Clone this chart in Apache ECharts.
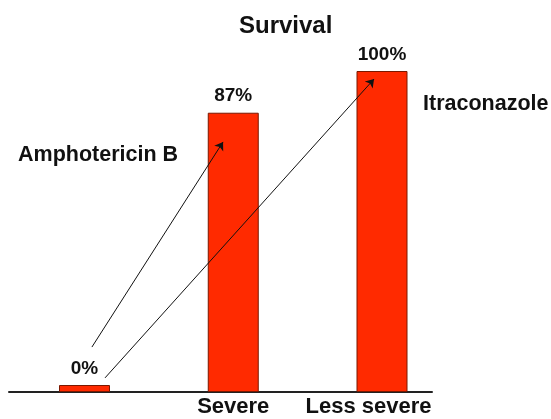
<!DOCTYPE html>
<html>
<head>
<meta charset="utf-8">
<script src="https://cdn.jsdelivr.net/npm/echarts@6/dist/echarts.min.js"></script>
<style>
html,body{margin:0;padding:0;background:#fff;}
#chart{width:551px;height:419px;}
</style>
</head>
<body>
<div id="chart"></div>
<script>
// Data
const categories = ['', 'Severe', 'Less severe'];
const survival = [0, 87, 100];
// Annotation arrows (in percent-of-axis-width x, survival-scale y)
const arrowAmphotericin = [[19.6, 14.0], [50.6, 77.9]];
const arrowItraconazole = [[22.7, 4.4], [86.3, 97.5]];
const annotationTexts = ['Amphotericin B', 'Itraconazole'];
const titleText = 'Survival';

const FONT = '"Liberation Sans", Arial, Helvetica, sans-serif';
const chart = echarts.init(document.getElementById('chart'), null, {renderer: 'canvas'});

const categoryData = categories.map(function (c, i) {
  return i === categories.length - 1
    ? {value: c, textStyle: {padding: [0, 27, 0, 0]}}
    : {value: c};
});

chart.setOption({
  backgroundColor: '#ffffff',
  animation: false,
  title: {
    text: titleText,
    left: 234,
    top: 9,
    textStyle: {fontFamily: FONT, fontSize: 24, fontWeight: 'bold', color: '#111'}
  },
  grid: [
    {left: 84.5, right: 169, top: 71, bottom: 27, containLabel: false, outerBoundsMode: 'none'},
    {left: 9, right: 119, top: 71, bottom: 27, containLabel: false, outerBoundsMode: 'none'}
  ],
  xAxis: [
    {
      type: 'category', gridIndex: 0, data: categoryData, boundaryGap: false,
      axisLine: {show: false}, axisTick: {show: false},
      axisLabel: {margin: 4, fontFamily: FONT, fontSize: 22, fontWeight: 'bold', color: '#111', interval: 0}
    },
    {
      type: 'value', gridIndex: 1, min: 0, max: 100,
      axisLine: {show: true, lineStyle: {color: '#222', width: 2}},
      axisTick: {show: false}, axisLabel: {show: false}, splitLine: {show: false}
    }
  ],
  yAxis: [
    {type: 'value', gridIndex: 0, min: 0, max: 100, show: false},
    {type: 'value', gridIndex: 1, min: 0, max: 100, show: false}
  ],
  series: [
    {
      type: 'bar', xAxisIndex: 0, yAxisIndex: 0,
      data: survival, barWidth: 51, barMinHeight: 7, clip: false,
      itemStyle: {color: '#ff2a00', borderColor: '#7a1800', borderWidth: 1},
      label: {
        show: true, position: 'top', distance: 7,
        formatter: '{c}%',
        fontFamily: FONT, fontSize: 19, fontWeight: 'bold', color: '#111'
      }
    },
    {
      type: 'lines', coordinateSystem: 'cartesian2d', xAxisIndex: 1, yAxisIndex: 1,
      z: 5,
      symbol: ['none', 'arrow'], symbolSize: 8,
      lineStyle: {color: '#111', width: 1, opacity: 1},
      data: [{coords: arrowAmphotericin}, {coords: arrowItraconazole}]
    }
  ],
  graphic: [
    {type: 'text', left: 18, top: 144, style: {text: annotationTexts[0], font: 'bold 21.5px ' + FONT, fill: '#111'}},
    {type: 'text', left: 423, top: 93, style: {text: annotationTexts[1], font: 'bold 21.5px ' + FONT, fill: '#111'}}
  ]
});
</script>
</body>
</html>
